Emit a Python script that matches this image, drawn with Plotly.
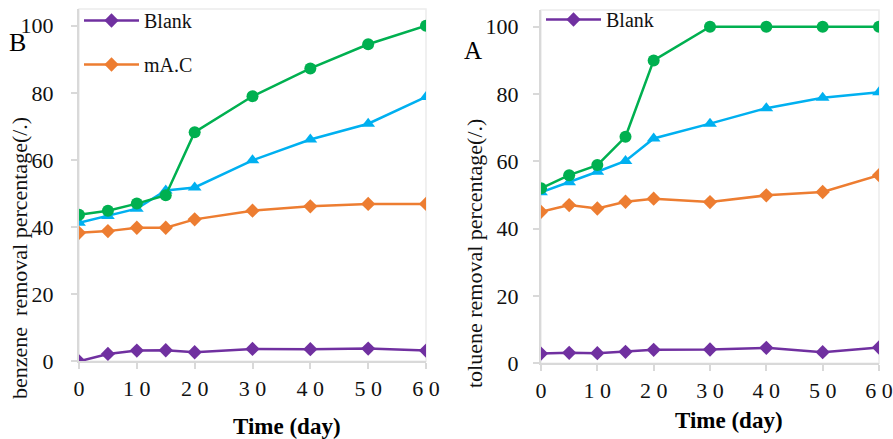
import plotly.graph_objects as go

days = [0, 5, 10, 15, 20, 30, 40, 50, 60]
x_ticks = [0, 10, 20, 30, 40, 50, 60]
x_tick_labels = ["0", "1 0", "2 0", "3 0", "4 0", "5 0", "6 0"]
y_ticks = [0, 20, 40, 60, 80, 100]

# Benzene (panel B, left)
benz_blank = [0.0, 2.2, 3.2, 3.3, 2.7, 3.7, 3.6, 3.8, 3.2]
benz_mac = [38.3, 38.8, 39.8, 39.8, 42.3, 44.9, 46.2, 46.9, 46.9]
benz_green = [43.7, 44.9, 47.0, 49.5, 68.3, 79.0, 87.3, 94.5, 100.0]
benz_cyan = [41.3, 43.3, 45.5, 50.9, 51.8, 59.9, 66.1, 70.8, 78.8]

# Toluene (panel A, right)
tol_blank = [2.9, 3.1, 3.0, 3.4, 4.0, 4.1, 4.6, 3.3, 4.7]
tol_mac = [45.0, 47.0, 46.0, 48.0, 48.9, 47.9, 49.9, 50.9, 55.9]
tol_green = [52.0, 55.9, 58.9, 67.3, 90.0, 100.0, 100.0, 100.0, 100.0]
tol_cyan = [50.8, 53.8, 56.9, 60.1, 66.8, 71.2, 75.8, 78.9, 80.5]

PURPLE = "#7030A0"
ORANGE = "#ED7D31"
GREEN = "#00B050"
CYAN = "#00B0F0"
FONT = "Liberation Serif"

fig = go.Figure()

def add_panel(xa, ya, blank, mac, green, cyan, legend, show_mac):
    fig.add_trace(go.Scatter(x=days, y=cyan, mode="lines+markers", name="",
                             line=dict(color=CYAN, width=2.5),
                             marker=dict(symbol="triangle-up", size=12, color=CYAN),
                             xaxis=xa, yaxis=ya, showlegend=False))
    fig.add_trace(go.Scatter(x=days, y=green, mode="lines+markers", name="",
                             line=dict(color=GREEN, width=2.5),
                             marker=dict(symbol="circle", size=12, color=GREEN),
                             xaxis=xa, yaxis=ya, showlegend=False))
    fig.add_trace(go.Scatter(x=days, y=mac, mode="lines+markers", name="mA.C",
                             line=dict(color=ORANGE, width=2.5),
                             marker=dict(symbol="diamond", size=11, color=ORANGE),
                             xaxis=xa, yaxis=ya, showlegend=show_mac, legend=legend,
                             legendgroup=legend + "mac", legendrank=2))
    fig.add_trace(go.Scatter(x=days, y=blank, mode="lines+markers", name="Blank",
                             line=dict(color=PURPLE, width=2.5),
                             marker=dict(symbol="diamond", size=11, color=PURPLE),
                             xaxis=xa, yaxis=ya, showlegend=True, legend=legend,
                             legendgroup=legend + "blank", legendrank=1))

add_panel("x", "y", benz_blank, benz_mac, benz_green, benz_cyan, "legend", True)
add_panel("x2", "y2", tol_blank, tol_mac, tol_green, tol_cyan, "legend2", False)

axis_common = dict(showgrid=False, zeroline=False, showline=True, automargin=False,
                   linecolor="#d9d9d9", linewidth=2, ticks="outside",
                   ticklen=6, tickcolor="#d9d9d9", tickwidth=1.5,
                   tickfont=dict(family=FONT, size=22, color="#111111"))

fig.update_layout(
    template="none",
    width=893, height=439,
    margin=dict(l=0, r=0, t=0, b=0),
    paper_bgcolor="white", plot_bgcolor="white",
    showlegend=True,
    xaxis=dict(domain=[79/893, 426/893], range=[0, 60], tickvals=x_ticks,
               ticktext=x_tick_labels, anchor="y", **axis_common),
    yaxis=dict(domain=[(439-361.3)/439, (439-9)/439], range=[0, 105],
               tickvals=y_ticks, anchor="x", ticklabelstandoff=13, **axis_common),
    xaxis2=dict(domain=[541/893, 879/893], range=[0, 60], tickvals=x_ticks,
                ticktext=x_tick_labels, anchor="y2", **axis_common),
    yaxis2=dict(domain=[(439-363.3)/439, (439-9.9)/439], range=[0, 105],
                tickvals=y_ticks, anchor="x2", ticklabelstandoff=10, **axis_common),
    legend=dict(x=79/893, y=1 - 1/439, xanchor="left", yanchor="top",
                bgcolor="rgba(0,0,0,0)", traceorder="grouped", tracegroupgap=15,
                itemwidth=55,
                font=dict(family=FONT, size=20, color="#111111")),
    legend2=dict(x=541/893, y=1 - 0/439, xanchor="left", yanchor="top",
                 bgcolor="rgba(0,0,0,0)", itemwidth=55,
                 font=dict(family=FONT, size=20, color="#111111")),
)

# light plot-area frames
for xr, yr in (("x domain", "y domain"), ("x2 domain", "y2 domain")):
    fig.add_shape(type="rect", xref=xr, yref=yr, x0=0, x1=1, y0=0, y1=1,
                  line=dict(color="#ececec", width=1.5), layer="below")

def label(text, x, y, size, angle=0, color="#111111"):
    return dict(text=text, x=x/893, y=1 - y/439, xref="paper", yref="paper",
                xanchor="center", yanchor="middle", textangle=angle,
                showarrow=False, font=dict(family=FONT, size=size, color=color))

ann = [
    label("<b>Time (day)</b>", 287, 426, 23, color="black"),
    label("<b>Time (day)</b>", 729, 420, 23, color="black"),
    label("benzene&nbsp; removal percentage(/.)", 19, 258, 22, angle=-90),
    label("toluene removal percentage(/.)", 474, 254, 22, angle=-90),
    label("B", 17, 42, 26, color="black"),
    label("A", 473, 50, 25, color="black"),
]
fig.update_layout(annotations=ann)

fig.write_html("out.html", config={"displayModeBar": False},
               post_script="document.body.style.margin='0';document.body.style.padding='0';")
